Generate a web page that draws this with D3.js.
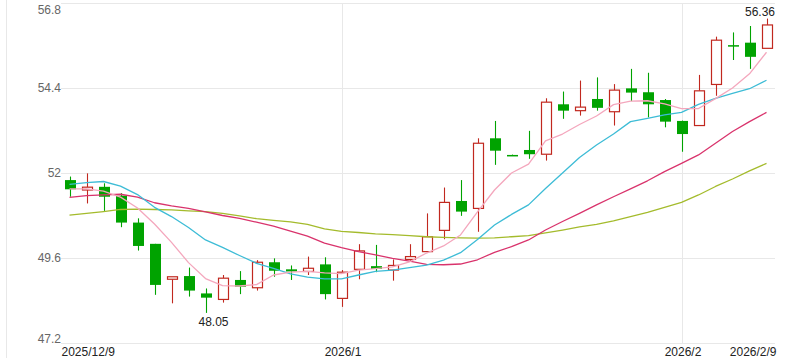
<!DOCTYPE html>
<html>
<head>
<meta charset="utf-8">
<script src="https://cdn.jsdelivr.net/npm/d3@7/dist/d3.min.js"></script>
<style>
  html, body { margin: 0; padding: 0; background: #fff; }
  svg { display: block; font-family: "Liberation Sans", Arial, sans-serif; }
</style>
</head>
<body>
<svg id="chart" width="789" height="358"></svg>
<script>
// ---------- data ----------
const categories = [
  "2025/12/9","2025/12/10","2025/12/11","2025/12/12","2025/12/15","2025/12/16","2025/12/17","2025/12/18",
  "2025/12/19","2025/12/22","2025/12/23","2025/12/24","2025/12/26","2025/12/29","2025/12/30","2025/12/31",
  "2026/1/5","2026/1/6","2026/1/7","2026/1/8","2026/1/9","2026/1/12","2026/1/13","2026/1/14","2026/1/15",
  "2026/1/16","2026/1/19","2026/1/20","2026/1/21","2026/1/22","2026/1/23","2026/1/26","2026/1/27",
  "2026/1/28","2026/1/29","2026/1/30","2026/2/2","2026/2/3","2026/2/4","2026/2/5","2026/2/6","2026/2/9"
];
const open  = [51.80,51.52,51.61,51.36,50.60,50.00,49.00,49.09,48.60,48.43,48.98,48.76,49.48,49.28,49.22,49.42,
               48.46,49.28,49.37,49.26,49.56,49.78,50.38,51.21,51.00,52.98,52.51,52.65,52.53,53.94,53.76,54.09,
               53.73,54.39,54.28,54.06,53.47,53.34,54.50,55.61,55.68,55.52];
const high  = [51.90,51.99,51.71,51.43,50.72,50.00,49.07,49.33,48.74,49.12,49.23,49.54,49.59,49.39,49.64,49.62,
               49.26,49.99,49.97,49.56,49.99,50.86,51.59,51.80,52.98,53.47,52.52,53.19,54.11,54.30,54.61,54.70,
               54.51,54.94,54.83,54.09,53.48,54.77,55.85,55.97,56.15,56.36];
const low   = [51.33,51.14,50.93,50.47,49.81,48.56,48.32,48.51,48.05,48.34,48.58,48.68,49.07,48.98,49.12,48.43,
               48.22,49.00,49.20,48.96,49.50,49.75,50.13,50.79,50.34,52.23,52.48,52.40,52.35,53.53,53.62,53.76,
               53.34,54.03,53.57,53.29,52.60,53.34,54.18,55.19,54.94,55.52];
const close = [51.54,51.60,51.33,50.60,49.94,48.84,49.07,48.68,48.48,49.03,48.79,49.48,49.24,49.22,49.31,48.58,
               49.20,49.80,49.29,49.39,49.64,50.20,51.17,50.91,52.84,52.63,52.49,52.53,54.00,53.76,53.86,53.84,
               54.34,54.27,53.94,53.45,53.10,54.32,55.75,55.57,55.28,56.18];
const ma5  = [51.55,51.55,51.49,51.32,51.01,50.56,50.04,49.47,49.02,48.82,48.81,48.85,49.12,49.20,49.22,49.18,
              49.16,49.26,49.30,49.35,49.49,49.74,49.94,50.25,50.90,51.52,52.00,52.25,52.91,53.10,53.37,53.61,
              53.93,54.03,54.04,53.95,53.82,53.82,54.10,54.40,54.80,55.41];
const ma10 = [51.68,51.73,51.76,51.63,51.39,51.03,50.77,50.46,50.11,49.90,49.67,49.45,49.31,49.15,49.06,49.01,
              49.01,49.12,49.22,49.26,49.33,49.40,49.54,49.75,50.12,50.53,50.83,51.10,51.56,52.00,52.44,52.79,
              53.10,53.45,53.54,53.64,53.71,53.94,54.11,54.25,54.38,54.62];
const ma20 = [51.31,51.36,51.38,51.40,51.32,51.16,51.07,51.00,50.90,50.80,50.72,50.61,50.50,50.36,50.22,50.02,
              49.89,49.78,49.69,49.59,49.51,49.42,49.41,49.43,49.55,49.76,49.92,50.11,50.39,50.63,50.86,51.10,
              51.33,51.55,51.78,52.04,52.27,52.51,52.84,53.17,53.45,53.71];
const ma30 = [50.81,50.86,50.91,50.97,50.98,50.97,50.96,50.93,50.91,50.86,50.79,50.71,50.66,50.62,50.55,50.42,
              50.35,50.32,50.28,50.26,50.23,50.20,50.18,50.17,50.16,50.17,50.20,50.23,50.31,50.39,50.48,50.55,
              50.65,50.77,50.89,51.03,51.17,51.38,51.62,51.83,52.06,52.27];
const yTicks = [47.2, 49.6, 52, 54.4, 56.8];
const xTickDates  = ["2025/12/9", "2026/1/5", "2026/2/2", "2026/2/9"];
const xTickLabels = ["2025/12/9", "2026/1", "2026/2", "2026/2/9"];

// ---------- styles ----------
const UP = "#c1281f", DOWN = "#00a300";
const lineColors = ["#f4a7bd", "#3dbcd6", "#d9336c", "#a4bb2c"];
const gridColor = "#e8e8e8";

// ---------- layout ----------
const svg = d3.select("#chart");
const pL = 61, pR = 775, pT = 3, pB = 343;

const x = d3.scaleBand().domain(d3.range(categories.length)).range([pL, pR]).padding(0);
const bw = x.bandwidth();
const cx = i => x(i) + bw / 2;
const y = d3.scaleLinear().domain([47.2, 56.8]).range([pB, pT]);

// left border line
svg.append("line")
  .attr("x1", 6.5).attr("x2", 6.5).attr("y1", 0).attr("y2", 358)
  .attr("stroke", gridColor).attr("stroke-width", 1);

// horizontal grid
svg.append("g").selectAll("line").data(yTicks).join("line")
  .attr("x1", pL).attr("x2", pR)
  .attr("y1", d => Math.round(y(d)) + 0.5).attr("y2", d => Math.round(y(d)) + 0.5)
  .attr("stroke", gridColor).attr("stroke-width", 1);

// vertical grid at interior month ticks
const tickIdx = xTickDates.map(d => categories.indexOf(d));
svg.append("g").selectAll("line").data(tickIdx.slice(1, -1)).join("line")
  .attr("x1", d => Math.round(cx(d)) + 0.5).attr("x2", d => Math.round(cx(d)) + 0.5)
  .attr("y1", pT).attr("y2", pB)
  .attr("stroke", gridColor).attr("stroke-width", 1);

// y axis labels
const yAxis = svg.append("g").attr("transform", `translate(${pL},0)`)
  .call(d3.axisLeft(y).tickValues(yTicks).tickSize(0).tickPadding(0).tickFormat(d3.format("")));
yAxis.select(".domain").remove();
yAxis.selectAll("text")
  .attr("fill", "#666").attr("font-size", 12)
  .attr("font-family", "'Liberation Sans', Arial, sans-serif")
  .attr("dy", (d, i) => i === 0 ? "-0.05em" : (i === yTicks.length - 1 ? "0.85em" : "0.32em"));

// x axis labels
const xAxis = svg.append("g").attr("transform", `translate(0,${pB})`)
  .call(d3.axisBottom(d3.scaleLinear().domain([0, categories.length - 1]).range([cx(0), cx(categories.length - 1)]))
    .tickValues(tickIdx).tickSize(0).tickPadding(0)
    .tickFormat((d, i) => xTickLabels[i]));
xAxis.select(".domain").remove();
xAxis.selectAll("text")
  .attr("fill", "#222").attr("font-size", 12)
  .attr("font-family", "'Liberation Sans', Arial, sans-serif")
  .attr("y", 13).attr("dy", 0)
  .attr("text-anchor", (d, i) => i === 0 ? "start" : (i === tickIdx.length - 1 ? "end" : "middle"))
  .attr("x", (d, i) => i === 0 ? pL - cx(d) : (i === tickIdx.length - 1 ? pR + 1 - cx(d) : 1));

// candles
const bodyW = 10;
const g = svg.append("g");
categories.forEach((c, i) => {
  const o = open[i], cl = close[i], h = high[i], l = low[i];
  const up = cl >= o;
  const col = up ? UP : DOWN;
  const xc = Math.round(cx(i)) + 0.5;
  const yTop = y(Math.max(o, cl)), yBot = y(Math.min(o, cl));
  if (up) {
    g.append("line").attr("x1", xc).attr("x2", xc).attr("y1", y(h)).attr("y2", yTop)
      .attr("stroke", col).attr("stroke-width", 1.1);
    g.append("line").attr("x1", xc).attr("x2", xc).attr("y1", yBot).attr("y2", y(l))
      .attr("stroke", col).attr("stroke-width", 1.1);
    g.append("rect").attr("x", xc - bodyW / 2).attr("y", yTop)
      .attr("width", bodyW).attr("height", Math.max(1, yBot - yTop))
      .attr("fill", "#fff").attr("stroke", col).attr("stroke-width", 1.2);
  } else {
    g.append("line").attr("x1", xc).attr("x2", xc).attr("y1", y(h)).attr("y2", y(l))
      .attr("stroke", col).attr("stroke-width", 1.1);
    g.append("rect").attr("x", xc - bodyW / 2 - 0.5).attr("y", yTop)
      .attr("width", bodyW + 1).attr("height", Math.max(1.5, yBot - yTop))
      .attr("fill", col);
  }
});

// moving averages
const line = d3.line().x((d, i) => cx(i)).y(d => y(d));
[ma30, ma20, ma10, ma5].forEach((s, k) => {
  const color = lineColors[3 - k];
  svg.append("path").attr("d", line(s)).attr("fill", "none")
    .attr("stroke", color).attr("stroke-width", 1.3).attr("stroke-linejoin", "round");
});

// max / min annotations
const maxI = d3.maxIndex(high), minI = d3.minIndex(low);
function annot(i, val, yPos) {
  const t = svg.append("text").text(val.toFixed(2))
    .attr("font-size", 12).attr("fill", "#222")
    .attr("text-anchor", "middle")
    .attr("x", cx(i) + 8).attr("y", yPos);
  const bb = t.node().getBBox();
  if (bb.x + bb.width > pR) t.attr("text-anchor", "end").attr("x", pR);
  if (bb.x < pL) t.attr("text-anchor", "start").attr("x", pL);
}
annot(maxI, high[maxI], y(high[maxI]) - 2.5);
annot(minI, low[minI], y(low[minI]) + 13);
</script>
</body>
</html>
